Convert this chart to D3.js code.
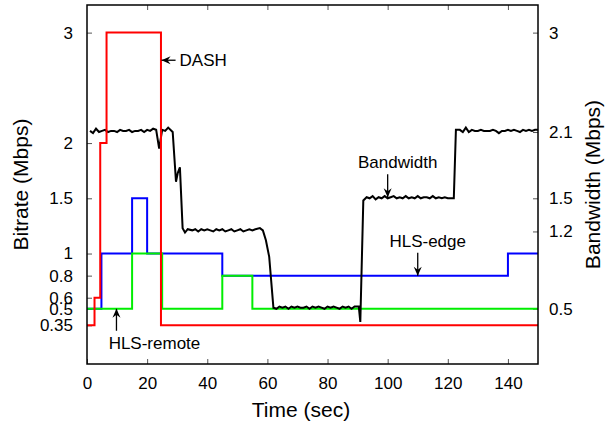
<!DOCTYPE html>
<html>
<head>
<meta charset="utf-8">
<script src="https://cdn.jsdelivr.net/npm/d3@7"></script>
<style>
  body { margin: 0; background: #fff; }
  text { font-family: "Liberation Sans", Arial, Helvetica, sans-serif; fill: #000; }
</style>
</head>
<body>
<div id="chart"></div>
<script>
// ---- data ----
// step series: [time (sec), bitrate (Mbps)], value holds until next time
var dashSteps = [[0, 0.35], [2.5, 0.6], [4.4, 2], [6.5, 3], [24.6, 0.35], [150, 0.35]];
var edgeSteps = [[0, 0.5], [4.8, 1], [15, 1.5], [20, 1], [45, 0.8], [140, 1], [150, 1]];
var remoteSteps = [[0, 0.5], [15, 1], [25, 0.5], [45, 0.8], [55, 0.5], [150, 0.5]];

// measured bandwidth [time (sec), Mbps]
var bandwidth = [
  [1, 2.11], [2, 2.09], [3, 2.13], [4, 2.10], [5, 2.11], [6, 2.12], [7, 2.10], [8, 2.11],
  [9, 2.11], [10, 2.10], [11, 2.12], [12, 2.11], [13, 2.11], [14, 2.12], [15, 2.10],
  [16, 2.11], [17, 2.11], [18, 2.12], [19, 2.10], [20, 2.12], [21, 2.11], [22, 2.13],
  [23, 2.12], [24, 1.95], [25, 2.12], [26, 2.11], [27, 2.14], [28.5, 2.10], [29.6, 1.65],
  [30.2, 1.73], [30.9, 1.78], [31.8, 1.23], [32.6, 1.19], [33.5, 1.22], [35, 1.21],
  [36, 1.22], [37, 1.20], [38, 1.22], [39, 1.21], [40, 1.22], [41, 1.21], [42, 1.20],
  [43, 1.22], [44, 1.21], [45, 1.22], [46, 1.20], [47, 1.21], [48, 1.22], [49, 1.20],
  [50, 1.21], [51, 1.22], [52, 1.20], [53, 1.21], [54, 1.22], [55, 1.21], [56, 1.22],
  [57.5, 1.23], [58.5, 1.21], [59.5, 1.12], [60.6, 0.97], [62, 0.51], [63, 0.50],
  [64, 0.52], [65, 0.51], [66, 0.52], [67, 0.50], [68, 0.52], [69, 0.51], [70, 0.52],
  [71, 0.51], [72, 0.51], [73, 0.52], [74, 0.50], [75, 0.52], [76, 0.51], [77, 0.52],
  [78, 0.51], [79, 0.50], [80, 0.52], [81, 0.51], [82, 0.52], [83, 0.51], [84, 0.50],
  [85, 0.52], [86, 0.51], [87, 0.52], [88, 0.50], [89, 0.52], [90.4, 0.52], [90.9, 0.38],
  [91.9, 1.48], [93, 1.51], [94, 1.50], [95, 1.52], [96, 1.49], [97, 1.51], [98, 1.50],
  [99, 1.52], [100, 1.50], [101, 1.51], [102, 1.52], [103, 1.50], [104, 1.51], [105, 1.50],
  [106, 1.52], [107, 1.50], [108, 1.51], [109, 1.50], [110, 1.52], [111, 1.50], [112, 1.51],
  [113, 1.51], [114, 1.50], [115, 1.52], [116, 1.50], [117, 1.51], [118, 1.50], [119, 1.51],
  [120, 1.50], [121, 1.50], [122, 1.50], [122.7, 2.12], [124, 2.12], [125, 2.10], [126, 2.14],
  [127, 2.10], [128, 2.12], [129, 2.11], [130, 2.11], [131, 2.12], [132, 2.11], [133, 2.11],
  [134, 2.11], [135, 2.12], [136, 2.11], [137, 2.09], [138, 2.11], [139, 2.11], [140, 2.12],
  [141, 2.11], [142, 2.12], [143, 2.11], [144, 2.10], [145, 2.12], [146, 2.11], [147, 2.12],
  [148, 2.11], [149, 2.12], [150, 2.12]
];

var xTicks = [0, 20, 40, 60, 80, 100, 120, 140];
var leftTicks = [0.35, 0.5, 0.6, 0.8, 1, 1.5, 2, 3];
var rightTicks = [0.5, 1.2, 1.5, 2.1, 3];

// annotations: label, point the arrow touches (time, Mbps), direction
var notes = [
  {label: "DASH", t: 24.8, v: 2.75, dir: "left"},
  {label: "Bandwidth", t: 100, v: 1.51, dir: "down"},
  {label: "HLS-edge", t: 110, v: 0.8, dir: "down"},
  {label: "HLS-remote", t: 9.8, v: 0.5, dir: "up"}
];

// ---- layout ----
var width = 605, height = 425;
var margin = {top: 5, right: 67, bottom: 61, left: 87};
var w = width - margin.left - margin.right,
    h = height - margin.top - margin.bottom;

var svg = d3.select("#chart").append("svg")
  .attr("width", width)
  .attr("height", height);

var g = svg.append("g")
  .attr("transform", "translate(" + margin.left + "," + margin.top + ")");

var x = d3.scaleLinear().domain([0, 150]).range([0, w]);
var y = d3.scaleLinear().domain([0, 3.25]).range([h, 0]);

// ---- axes (ticks point inward) ----
var tickLen = 5;
var fs = 17;

var xAxis = g.append("g").attr("transform", "translate(0," + h + ")")
  .call(d3.axisBottom(x).tickValues(xTicks).tickSizeInner(-tickLen).tickSizeOuter(0).tickPadding(13));
var xTop = g.append("g")
  .call(d3.axisTop(x).tickValues(xTicks.slice(1)).tickSizeInner(-tickLen).tickSizeOuter(0).tickFormat(""));
var yLeft = g.append("g")
  .call(d3.axisLeft(y).tickValues(leftTicks).tickSizeInner(-tickLen).tickSizeOuter(0).tickPadding(14)
    .tickFormat(function(d) { return d; }));
var yRight = g.append("g").attr("transform", "translate(" + w + ",0)")
  .call(d3.axisRight(y).tickValues(rightTicks).tickSizeInner(-tickLen).tickSizeOuter(0).tickPadding(11)
    .tickFormat(function(d) { return d; }));

[xAxis, xTop, yLeft, yRight].forEach(function(a) {
  a.select(".domain").remove();
  a.selectAll(".tick line").attr("stroke", "#555").attr("stroke-width", 1);
  a.selectAll(".tick text").style("font-size", fs + "px")
    .style("font-family", "'Liberation Sans', Arial, sans-serif").attr("fill", "#000");
});

// ---- series ----
var stepLine = d3.line()
  .x(function(d) { return x(d[0]); })
  .y(function(d) { return y(d[1]); })
  .curve(d3.curveStepAfter);

var plainLine = d3.line()
  .x(function(d) { return x(d[0]); })
  .y(function(d) { return y(d[1]); });

g.append("path").datum(edgeSteps).attr("d", stepLine)
  .attr("fill", "none").attr("stroke", "#0000ff").attr("stroke-width", 2);
g.append("path").datum(remoteSteps).attr("d", stepLine)
  .attr("fill", "none").attr("stroke", "#00ee00").attr("stroke-width", 2);
g.append("path").datum(bandwidth).attr("d", plainLine)
  .attr("fill", "none").attr("stroke", "#000").attr("stroke-width", 2)
  .attr("stroke-linejoin", "miter");
g.append("path").datum(dashSteps).attr("d", stepLine)
  .attr("fill", "none").attr("stroke", "#ff0000").attr("stroke-width", 2);

// frame
g.append("rect").attr("width", w).attr("height", h)
  .attr("fill", "none").attr("stroke", "#000").attr("stroke-width", 1.5);

// ---- annotations ----
var arrowLen = 18;
notes.forEach(function(n) {
  var px = x(n.t), py = y(n.v);
  var x2 = px, y2 = py, tx, ty, anchor;
  if (n.dir === "left") {
    x2 = px + arrowLen - 4;
    tx = x2 + 4; ty = py + 6; anchor = "start";
  } else if (n.dir === "down") {
    y2 = py - arrowLen - 5;
    tx = px + 10; ty = y2 - 6; anchor = "middle";
  } else {
    y2 = py + arrowLen + 4;
    tx = px + 38; ty = y2 + 18; anchor = "middle";
  }
  g.append("line").attr("x1", x2).attr("y1", y2).attr("x2", px).attr("y2", py)
    .attr("stroke", "#000").attr("stroke-width", 1.3);
  // arrow head
  var hw = 4, hl = 9, pts;
  if (n.dir === "left") pts = [[px, py], [px + hl, py - hw], [px + hl - 3, py], [px + hl, py + hw]];
  else if (n.dir === "down") pts = [[px, py], [px - hw, py - hl], [px, py - hl + 3], [px + hw, py - hl]];
  else pts = [[px, py], [px - hw, py + hl], [px, py + hl - 3], [px + hw, py + hl]];
  g.append("polygon").attr("points", pts.map(function(p) { return p.join(","); }).join(" "))
    .attr("fill", "#000");
  g.append("text").attr("x", tx).attr("y", ty).attr("text-anchor", anchor)
    .style("font-size", fs + "px").text(n.label);
});

// ---- axis titles ----
svg.append("text").attr("x", 301).attr("y", 417).attr("text-anchor", "middle")
  .style("font-size", "21px").text("Time (sec)");
svg.append("text").attr("transform", "translate(28," + (margin.top + h / 2) + ") rotate(-90)")
  .attr("text-anchor", "middle").style("font-size", "21px").text("Bitrate (Mbps)");
svg.append("text").attr("transform", "translate(600," + (margin.top + h / 2) + ") rotate(-90)")
  .attr("text-anchor", "middle").style("font-size", "21px").text("Bandwidth (Mbps)");
</script>
</body>
</html>
